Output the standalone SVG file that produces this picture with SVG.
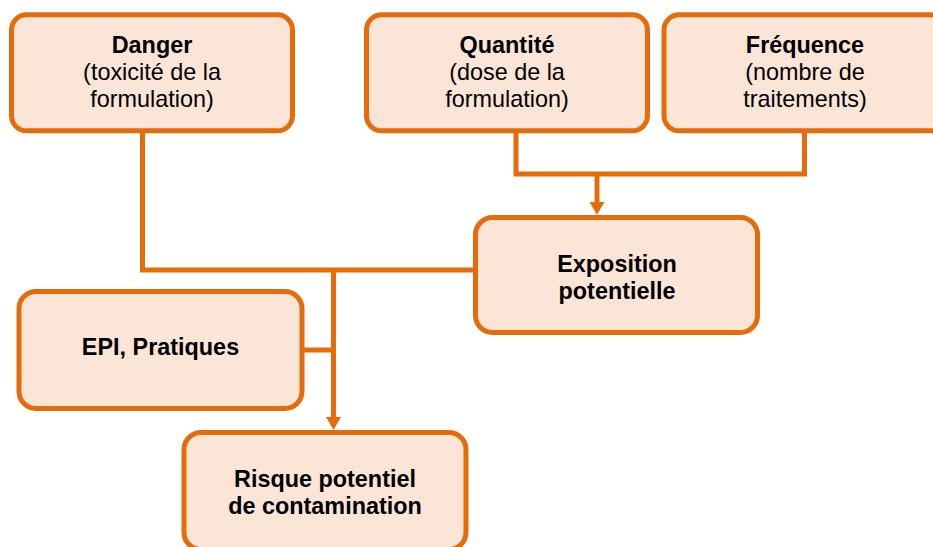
<svg xmlns="http://www.w3.org/2000/svg" width="933" height="547" viewBox="0 0 933 547">
<defs>
<style>
.box{fill:#FBE5D6;stroke:#E46C0A;stroke-width:5}
.conn{fill:none;stroke:#E46C0A;stroke-width:5;stroke-linejoin:miter}
text{font-family:"Liberation Sans",Arial,sans-serif;font-size:23.4px;fill:#000;text-anchor:middle}
.b{font-weight:bold}
</style>
<marker id="arr" viewBox="0 0 13 15" refX="3" refY="7.5" markerWidth="13" markerHeight="15" markerUnits="userSpaceOnUse" orient="auto">
<path d="M0,0 L13,7.5 L0,15 z" fill="#E46C0A"/>
</marker>
</defs>
<rect width="933" height="547" fill="#fff"/>
<g id="connectors">
<path class="conn" d="M142.5,131 V270 H475"/>
<path class="conn" d="M333.5,270 V420" marker-end="url(#arr)"/>
<path class="conn" d="M302,350 H333.5"/>
<path class="conn" d="M516,131 V174 H804.5 V131"/>
<path class="conn" d="M597,174 V205" marker-end="url(#arr)"/>
</g>
<g id="danger">
<rect class="box" x="11.5" y="14.8" width="281" height="116" rx="15"/>
<text x="152" y="53.3" class="b">Danger</text>
<text x="152" y="80">(toxicité de la</text>
<text x="152" y="106.7">formulation)</text>
</g>
<g id="quantite">
<rect class="box" x="366.5" y="14.8" width="281" height="116" rx="15"/>
<text x="507" y="53.3" class="b">Quantité</text>
<text x="507" y="80">(dose de la</text>
<text x="507" y="106.7">formulation)</text>
</g>
<g id="frequence">
<rect class="box" x="664" y="14.8" width="281" height="116" rx="15"/>
<text x="805" y="53.3" class="b">Fréquence</text>
<text x="805" y="80">(nombre de</text>
<text x="805" y="106.7">traitements)</text>
</g>
<g id="exposition">
<rect class="box" x="475.5" y="217.5" width="282" height="115" rx="17"/>
<text x="617" y="272" class="b">Exposition</text>
<text x="617" y="298.5" class="b">potentielle</text>
</g>
<g id="epi">
<rect class="box" x="19" y="291.5" width="283" height="117" rx="17"/>
<text x="160.5" y="355" class="b">EPI, Pratiques</text>
</g>
<g id="risque">
<rect class="box" x="184" y="432.5" width="282" height="117" rx="17"/>
<text x="325" y="486.7" class="b">Risque potentiel</text>
<text x="325" y="514" class="b">de contamination</text>
</g>
</svg>
